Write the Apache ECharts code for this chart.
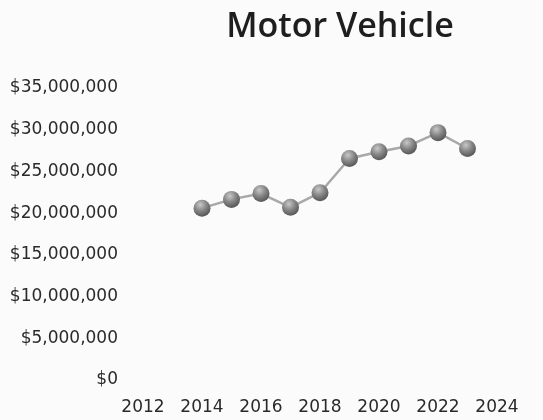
<!DOCTYPE html>
<html><head><meta charset="utf-8">
<script src="https://cdn.jsdelivr.net/npm/echarts@6/dist/echarts.min.js"></script>
<style>html,body{margin:0;padding:0;background:#fbfbfb}#c{width:543px;height:420px}</style>
</head><body><div id="c"></div>
<script>
const years = [2014, 2015, 2016, 2017, 2018, 2019, 2020, 2021, 2022, 2023];
const values = [20600000, 21650000, 22350000, 20700000, 22450000, 26550000, 27350000, 28050000, 29650000, 27750000];
const xTicks = [2012, 2014, 2016, 2018, 2020, 2022, 2024];
const yTicks = [0, 5000000, 10000000, 15000000, 20000000, 25000000, 30000000, 35000000];

const chart = echarts.init(document.getElementById('c'));
const fmt = v => '$' + v.toLocaleString('en-US');
chart.setOption({
  backgroundColor: '#fbfbfb',
  title: { text: 'Motor Vehicle', left: 335, top: 5, textAlign: 'center',
    textStyle: { fontFamily: 'Open Sans', fontWeight: 600, fontSize: 34, color: '#1e1e1e' } },
  grid: { left: 143, right: 46, top: 88, bottom: 40 },
  xAxis: { type: 'value', min: xTicks[0], max: xTicks[xTicks.length-1], interval: 2,
    axisLine: { show: false }, axisTick: { show: false }, splitLine: { show: false },
    axisLabel: { margin: 19, fontFamily: 'DejaVu Sans', fontSize: 17, color: '#2a2a2a', formatter: v => String(v) } },
  yAxis: { type: 'value', min: yTicks[0], max: yTicks[yTicks.length-1], interval: 5000000,
    axisLine: { show: false }, axisTick: { show: false }, splitLine: { show: false },
    axisLabel: { margin: 25, fontFamily: 'DejaVu Sans', fontSize: 17, color: '#2a2a2a', formatter: fmt } },
  series: [{
    type: 'line',
    data: years.map((y, i) => [y, values[i]]),
    symbol: 'circle', symbolSize: 17,
    lineStyle: { color: '#a8a8a8', width: 2.5 },
    itemStyle: { color: new echarts.graphic.RadialGradient(0.4, 0.3, 0.75, [
      { offset: 0, color: '#c8c8c8' }, { offset: 0.5, color: '#858585' }, { offset: 1, color: '#505050' }]),
      borderWidth: 0 }
  }]
});
</script></body></html>
